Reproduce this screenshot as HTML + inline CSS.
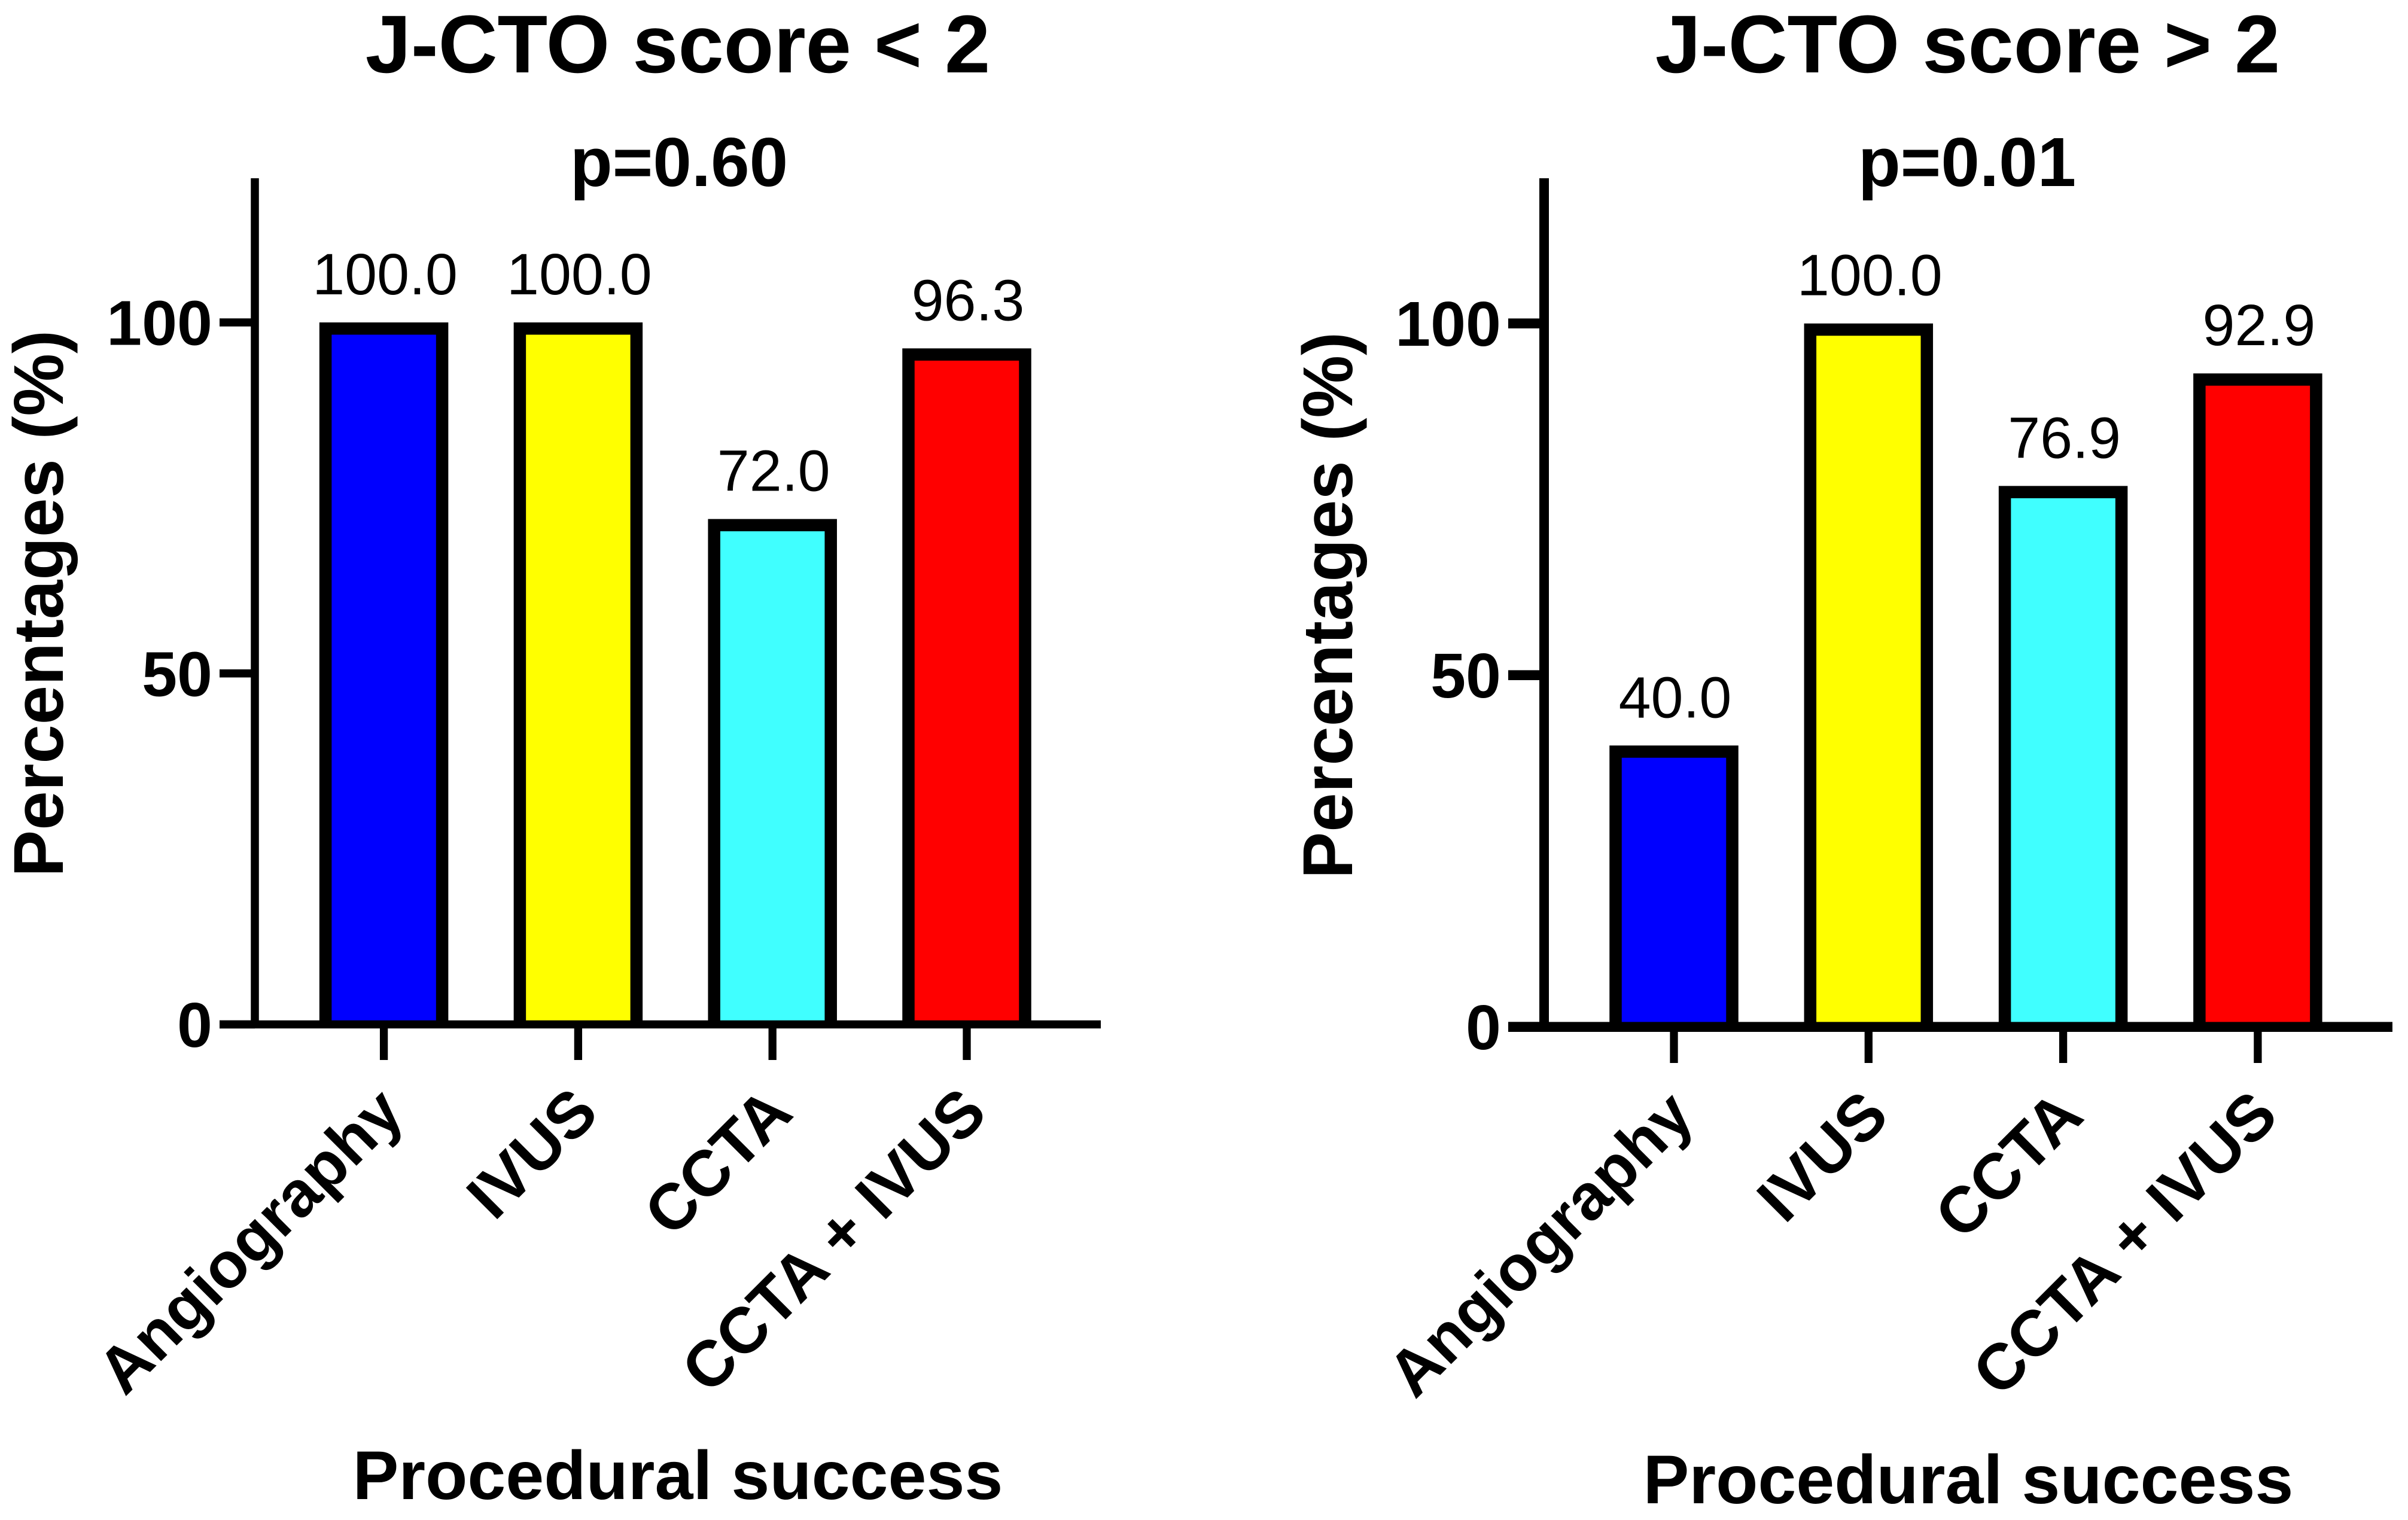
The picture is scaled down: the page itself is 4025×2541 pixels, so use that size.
<!DOCTYPE html>
<html lang="en">
<head>
<meta charset="utf-8">
<title>Procedural success by J-CTO score</title>
<style>
html,body{margin:0;padding:0;background:#fff;width:4025px;height:2541px;overflow:hidden}
svg{display:block;font-family:"Liberation Sans",Arial,sans-serif;fill:#000}
</style>
</head>
<body>
<svg id="figure" xmlns="http://www.w3.org/2000/svg" width="4025" height="2541" viewBox="0 0 4025 2541">
  <rect x="0" y="0" width="4025" height="2541" fill="#ffffff"/>
  <g id="panel-left"></g>
  <g id="panel-right"></g>
</svg>
<script>
const categories = ['Angiography', 'IVUS', 'CCTA', 'CCTA + IVUS'];
const barColors = ['#0000ff', '#ffff00', '#40ffff', '#ff0000'];
const leftValues = [100.0, 100.0, 72.0, 96.3];
const rightValues = [40.0, 100.0, 76.9, 92.9];
const yTickValues = [0, 50, 100];

const leftPanel = {
  id: 'panel-left', values: leftValues,
  title: 'J-CTO score < 2', pValue: 'p=0.60', xTitle: 'Procedural success', yTitle: 'Percentages (%)',
  y0: 1712.5, y100: 539, axisX: 426, axisW: 13.5, baseW: 13.6, axisTop: 298,
  xLeft: 367, xRight: 1840, firstX: 641.6, stepX: 324.8, tickBottom: 1772,
  titleX: 1133, titleY: 121, pX: 1135, pY: 311, xTitleX: 1133, xTitleY: 2506,
  yTitleX: 105, yTitleY: 1009, tickLabelX: 355, catY: 1867
};
const rightPanel = {
  id: 'panel-right', values: rightValues,
  title: 'J-CTO score > 2', pValue: 'p=0.01', xTitle: 'Procedural success', yTitle: 'Percentages (%)',
  y0: 1716.7, y100: 540.7, axisX: 2581, axisW: 16, baseW: 16.6, axisTop: 298,
  xLeft: 2521, xRight: 3999, firstX: 2798, stepX: 325.3, tickBottom: 1777,
  titleX: 3289, titleY: 121, pX: 3288, pY: 311, xTitleX: 3290, xTitleY: 2513,
  yTitleX: 2260, yTitleY: 1012, tickLabelX: 2509, catY: 1872
};

const SVG_NS = 'http://www.w3.org/2000/svg';
function make(parent, tag, attrs, text) {
  const el = document.createElementNS(SVG_NS, tag);
  for (const key in attrs) el.setAttribute(key, attrs[key]);
  if (text !== undefined) el.textContent = text;
  parent.appendChild(el);
  return el;
}
function slug(s) {
  return s.toLowerCase().replace(/[^a-z0-9]+/g, '-').replace(/^-|-$/g, '');
}

function drawPanel(p) {
  const g = document.getElementById(p.id);
  const yScale = v => p.y0 - v * (p.y0 - p.y100) / 100;
  const xScale = i => p.firstX + i * p.stepX;
  const BORDER = 20.5;
  const BAR_W = 195;

  p.values.forEach((v, i) => {
    const cx = xScale(i);
    const top = yScale(v) + BORDER / 2;
    const l = cx - BAR_W / 2;
    const r = cx + BAR_W / 2;
    const bar = make(g, 'path', {
      d: 'M' + l + ' ' + p.y0 + 'V' + top + 'H' + r + 'V' + p.y0,
      fill: barColors[i], stroke: '#000', 'stroke-width': BORDER, 'stroke-linejoin': 'miter'
    });
    
    

    const label = make(g, 'text', {
      x: cx + 2, y: yScale(v) - 47, 'text-anchor': 'middle', 'font-size': 97
    }, v.toFixed(1));
    
    

    const tick = make(g, 'line', {
      x1: cx, x2: cx, y1: p.y0, y2: p.tickBottom, stroke: '#000', 'stroke-width': 13.3
    });
    
    

    const cat = make(g, 'text', {
      'text-anchor': 'end', 'font-size': 108, 'font-weight': 'bold',
      transform: 'translate(' + (cx + 38) + ' ' + (p.catY - 2) + ') rotate(-45)'
    }, categories[i]);
    
    
  });

  const yAxis = make(g, 'line', {
    x1: p.axisX, x2: p.axisX, y1: p.axisTop, y2: p.y0, stroke: '#000', 'stroke-width': p.axisW
  });
  
  

  const xAxis = make(g, 'line', {
    x1: p.xLeft, x2: p.xRight, y1: p.y0, y2: p.y0, stroke: '#000', 'stroke-width': p.baseW
  });
  
  

  yTickValues.forEach(t => {
    const y = yScale(t);
    const tick = make(g, 'line', {
      x1: p.xLeft, x2: p.axisX, y1: y, y2: y, stroke: '#000', 'stroke-width': p.baseW
    });
    
    

    const label = make(g, 'text', {
      x: p.tickLabelX, y: y + 37.5, 'text-anchor': 'end', 'font-size': 106, 'font-weight': 'bold'
    }, String(t));
    
    
  });

  const title = make(g, 'text', {
    x: p.titleX, y: p.titleY, 'text-anchor': 'middle', 'font-size': 137, 'font-weight': 'bold'
  }, p.title);
  
  

  const pText = make(g, 'text', {
    x: p.pX, y: p.pY, 'text-anchor': 'middle', 'font-size': 116, 'font-weight': 'bold'
  }, p.pValue);
  
  

  const xTitle = make(g, 'text', {
    x: p.xTitleX, y: p.xTitleY, 'text-anchor': 'middle', 'font-size': 115, 'font-weight': 'bold'
  }, p.xTitle);
  
  

  const yTitle = make(g, 'text', {
    'text-anchor': 'middle', 'font-size': 117.5, 'font-weight': 'bold',
    transform: 'translate(' + p.yTitleX + ' ' + p.yTitleY + ') rotate(-90)'
  }, p.yTitle);
  
  
}

drawPanel(leftPanel);
drawPanel(rightPanel);
</script>
</body>
</html>
